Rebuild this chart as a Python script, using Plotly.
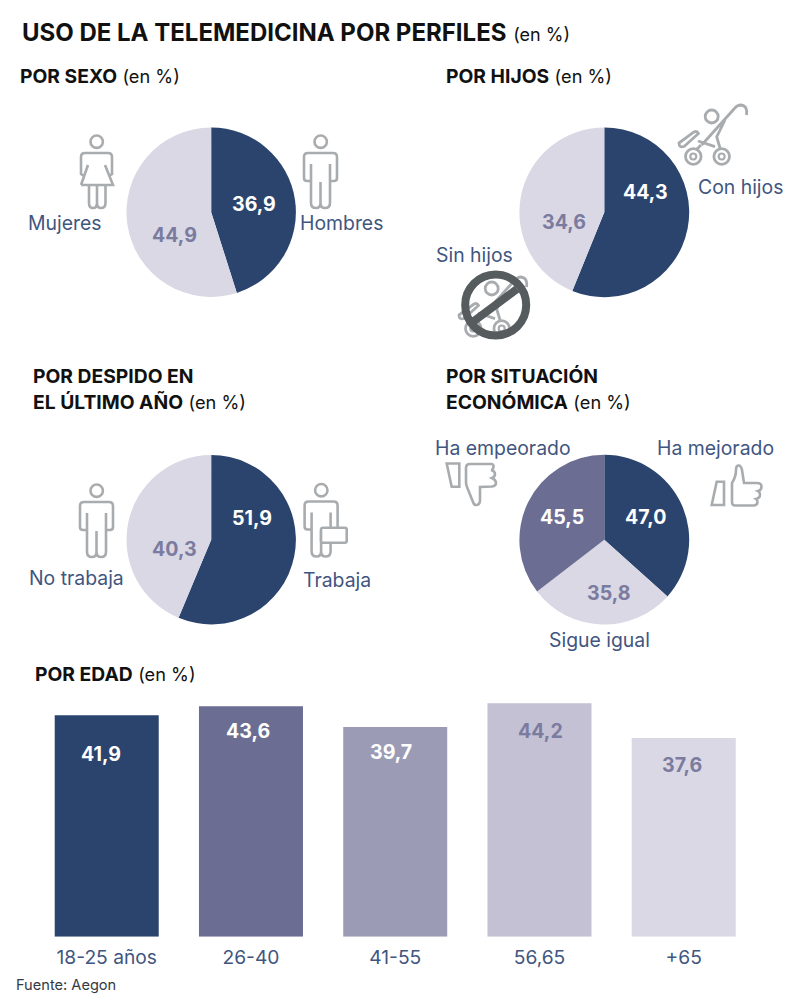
import re
import plotly.graph_objects as go

# ---------- data ----------
sexo_labels = ["Hombres", "Mujeres"]
sexo_values = [36.9, 44.9]
hijos_labels = ["Con hijos", "Sin hijos"]
hijos_values = [44.3, 34.6]
despido_labels = ["Trabaja", "No trabaja"]
despido_values = [51.9, 40.3]
economia_labels = ["Ha mejorado", "Sigue igual", "Ha empeorado"]
economia_values = [47.0, 35.8, 45.5]
edad_labels = ["18-25 años", "26-40", "41-55", "56,65", "+65"]
edad_values = [41.9, 43.6, 39.7, 44.2, 37.6]

# ---------- style ----------
W, H = 800, 998
FONT = "Inter"
NAVY = "#2b446d"
SLATE = "#6b6e92"
MID = "#9c9bb5"
SOFT = "#c3c1d3"
PALE = "#d9d8e4"
LABEL = "#3f5680"
DIM = "#7b7ba0"
ICON = "#a9acae"
BAN = "#565c5e"


def fx(x):
    return x / W


def fy(y):
    return 1 - y / H


def fmt(v):
    return f"{v:.1f}".replace(".", ",")


fig = go.Figure()


def pie(labels, values, colors, cx, cy, r):
    fig.add_trace(go.Pie(
        labels=labels, values=values, sort=False, direction="clockwise", rotation=0,
        marker=dict(colors=colors, line=dict(width=0)), textinfo="none", showlegend=False,
        hoverinfo="label+value",
        domain=dict(x=[fx(cx - r), fx(cx + r)], y=[fy(cy + r), fy(cy - r)]),
    ))


pie(sexo_labels, sexo_values, [NAVY, PALE], 211.2, 212.2, 84.7)
pie(hijos_labels, hijos_values, [NAVY, PALE], 604.3, 212.3, 84.9)
pie(despido_labels, despido_values, [NAVY, PALE], 211.2, 539.7, 84.7)
pie(economia_labels, economia_values, [NAVY, PALE, SLATE], 604.3, 539.7, 84.9)

fig.add_trace(go.Bar(
    x=edad_labels, y=edad_values, marker=dict(color=[NAVY, SLATE, MID, SOFT, PALE], line=dict(width=0)),
    width=0.721, showlegend=False, hoverinfo="x+y",
))

annotations = []


def text(s, x, y, size, color, anchor="center"):
    annotations.append(dict(
        text=s, x=fx(x), y=fy(y), xref="paper", yref="paper", xanchor=anchor, yanchor="middle",
        showarrow=False, align="left" if anchor == "left" else "center", borderpad=0, borderwidth=0,
        font=dict(family=FONT, size=size, color=color),
    ))


def heading(bold, x, y, unit=True):
    tail = ' <span style="font-weight:400;font-size:18.2px">(en %)</span>' if unit else ""
    text(f"<b>{bold}</b>{tail}", x, y, 19.3, "#111111", "left")


text('<b>USO DE LA TELEMEDICINA POR PERFILES</b> <span style="font-size:18px">(en %)</span>',
     22, 32, 24, "#111111", "left")
heading("POR SEXO", 20, 76)
heading("POR HIJOS", 446, 76)
heading("POR DESPIDO EN", 33, 375.7, False)
heading("EL ÚLTIMO AÑO", 33, 401.7)
heading("POR SITUACIÓN", 446, 375.7, False)
heading("ECONÓMICA", 446, 401.7)
heading("POR EDAD", 35, 673.7)
text("Fuente: Aegon", 16, 985, 14.6, "#333a44", "left")

# category labels placed next to each pie
for s, x, y in [
    (sexo_labels[0], 341, 223), (sexo_labels[1], 65, 223),
    (hijos_labels[0], 740, 187), (hijos_labels[1], 474, 255),
    (despido_labels[0], 337, 580), (despido_labels[1], 76, 578),
    (economia_labels[0], 715, 448), (economia_labels[1], 599, 640), (economia_labels[2], 503, 448),
]:
    text(s, x, y, 19.4, LABEL)

# value labels on the pies
for v, x, y, c in [
    (sexo_values[0], 254, 204, "white"), (sexo_values[1], 174, 235, DIM),
    (hijos_values[0], 645, 192, "white"), (hijos_values[1], 564, 222, DIM),
    (despido_values[0], 252, 518, "white"), (despido_values[1], 174, 549, DIM),
    (economia_values[0], 645, 517, "white"), (economia_values[1], 608, 593, DIM),
    (economia_values[2], 562, 517, "white"),
]:
    text(f"<b>{fmt(v)}</b>", x, y, 19.6, c)

# value labels on the bars (x is the category index)
for i, (v, y, c, shift) in enumerate(zip(edad_values, [754, 731, 752, 731, 765],
                                         ["white", "white", "white", DIM, DIM],
                                         [-6, -3, -4, 1, -2])):
    annotations.append(dict(
        text=f"<b>{fmt(v)}</b>", x=i, y=fy(y), xref="x", yref="paper", yanchor="middle", xshift=shift,
        showarrow=False, borderpad=0, font=dict(family=FONT, size=19.6, color=c),
    ))

# ---------- icons (pictograms, written in page pixels) ----------
shapes = []


def to_paper(path, dx=0, dy=0):
    nums = iter(range(10 ** 6))

    def conv(m):
        v = float(m.group(0))
        return f"{fx(v + dx):.5f}" if next(nums) % 2 == 0 else f"{fy(v + dy):.5f}"

    return re.sub(r"-?\d+\.?\d*", conv, path)


def icon(path, dx=0, dy=0, color=ICON, width=2.6, fill=None):
    shapes.append(dict(type="path", path=to_paper(path, dx, dy), xref="paper", yref="paper",
                       line=dict(color=color, width=width), fillcolor=fill or "rgba(0,0,0,0)"))


def ring(cx, cy, r, color=ICON, width=2.6):
    shapes.append(dict(type="circle", xref="paper", yref="paper",
                       x0=fx(cx - r), x1=fx(cx + r), y0=fy(cy + r), y1=fy(cy - r),
                       line=dict(color=color, width=width), fillcolor="rgba(0,0,0,0)"))


MAN = ("M 311,181 L 307,181 Q 304,181 304,178 L 304,157 Q 304,153 308,153 L 333,153 "
       "Q 337,153 337,157 L 337,178 Q 337,181 334,181 L 330,181 "
       "M 311,164 L 311,203 Q 311,208 316,208 Q 320.5,208 320.5,203 L 320.5,182 "
       "M 320.5,203 Q 320.5,208 325,208 Q 330,208 330,203 L 330,164")
WOMAN = ("M 81,185 L 113,185 L 105,165 M 88,165 L 81,185 "
         "M 84,176 L 81,174 L 81,157 Q 81,153 85,153 L 108,153 Q 112,153 112,157 L 112,174 L 109,176 "
         "M 89,185 L 89,203 Q 89,208 93,208 Q 97,208 97,203 L 97,185 "
         "M 97,203 Q 97,208 101,208 Q 105.5,208 105.5,203 L 105.5,185")
STROLLER = ("M 746.5,115 Q 748,106 741,105 Q 737,105 734,109 L 701.7,145 "
            "M 725,120 L 716.7,137 L 720,148 "
            "M 679,143 L 694,132 Q 697,130.5 698.5,133.5 L 684,146.5 Q 679,148 679,143 Z "
            "M 698,141 L 715,146.7 M 701,145 L 697,149")

ring(96.7, 141.7, 6.2)
icon(WOMAN)
ring(320.7, 141.7, 6.2)
icon(MAN)
ring(96.7, 490.7, 6.2)
icon(MAN, -224, 349)
ring(321.3, 490.2, 6.2)
icon(MAN, 0.6, 348.5)
icon("M 323,527.7 L 345,527.7 Q 346.7,527.7 346.7,529.5 L 346.7,541 Q 346.7,542.7 345,542.7 "
     "L 323,542.7 Q 321,542.7 321,541 L 321,529.5 Q 321,527.7 323,527.7 Z", fill="white")

for ddx, ddy in [(0, 0), (-220, 172)]:
    icon(STROLLER, ddx, ddy, width=2.8)
    ring(711.7 + ddx, 116.5 + ddy, 6.5, width=2.8)
    for wx in (693.3, 721.7):
        ring(wx + ddx, 156.5 + ddy, 7.8, width=2.8)
        ring(wx + ddx, 156.5 + ddy, 3, width=2.2)
ring(495.7, 305, 30.5, BAN, 8)
icon("M 474,321 L 517,289", color=BAN, width=8)

icon("M 446.7,463.5 L 459.3,463.5 L 459.3,486.7 L 451.7,486.7 Z")
icon("M 470,464 L 491,464 Q 494,464 493.5,467 Q 493,470 491,470 Q 495,471 495,474 Q 495,477 492,478 "
     "Q 496,480 496,483 Q 496,486 492,486.5 L 480,487 L 480,500 Q 480,505 476,505 Q 474,505 473,502 "
     "L 467,487 Q 466,485 466,482 L 466,468 Q 466,464 470,464 Z")
icon("M 716.7,481.7 L 724,481.7 L 724,505 L 711.7,505 Z")
icon("M 735,505.5 L 754,505.5 Q 757.5,505 757.5,502 Q 757.5,500 756,499 Q 760,498 760,494.5 Q 760,492 758,491 "
     "Q 761.5,490 761.5,486.5 Q 761.5,483 757,483 L 744,483 L 742,470 Q 741,465 738,465.5 Q 736,466 736,470 "
     "Q 736,477 732,483 L 732,502 Q 732,505.5 735,505.5 Z")

# ---------- layout ----------
fig.update_layout(
    width=W, height=H, margin=dict(l=0, r=0, t=0, b=0), paper_bgcolor="white", plot_bgcolor="white",
    showlegend=False, annotations=annotations, shapes=shapes,
    font=dict(family=FONT),
    xaxis=dict(domain=[fx(34.6), fx(755.85)], range=[-0.5, 4.5], type="category",
               showgrid=False, zeroline=False, showline=False, ticks="", ticklen=0, ticklabelstandoff=7,
               tickfont=dict(family=FONT, size=19.2, color=LABEL), anchor="y"),
    yaxis=dict(domain=[fy(936.7), fy(696.7)], range=[0, 240 / 5.284], visible=False, fixedrange=True),
)

fig.write_html("out.html", post_script="document.body.style.margin='0';",
               config=dict(displayModeBar=False))
